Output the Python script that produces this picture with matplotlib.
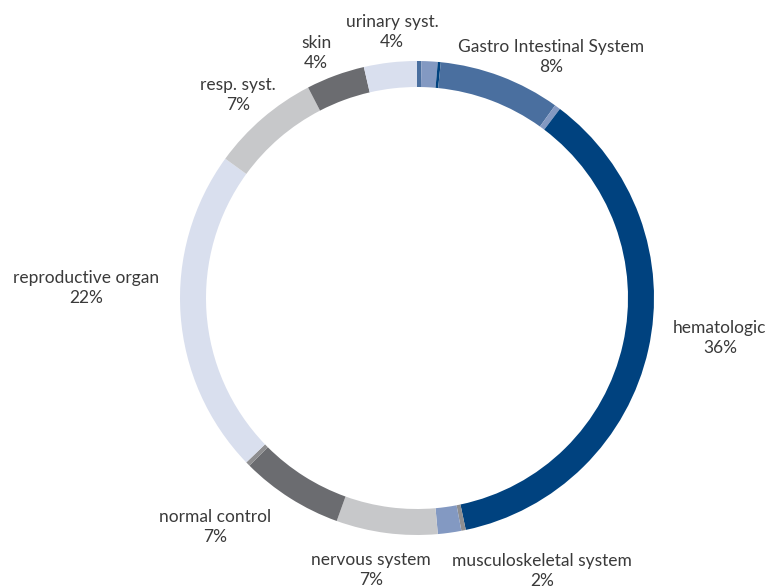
import matplotlib
matplotlib.use('Agg')
import matplotlib.pyplot as plt

# slices clockwise from 12 o'clock (percent of total)
slice_names = ['', '', '', 'Gastro Intestinal System', '', 'hematologic', '',
               'musculoskeletal system', 'nervous system', 'normal control', '',
               'reproductive organ', 'resp. syst.', 'skin', 'urinary syst.']
slice_values = [0.3, 1.1, 0.2, 8.3, 0.4, 36.4, 0.3,
                1.6, 6.9, 7.0, 0.3,
                22.2, 7.4, 4.0, 3.6]

NAVY = '#00427f'
MIDBLUE = '#4a6f9f'
STEEL = '#8399c2'
DARKGRAY = '#6b6c70'
MIDGRAY = '#8e8e90'
LIGHTGRAY = '#c7c8ca'
LAVENDER = '#d9dfee'
slice_colors = [MIDBLUE, STEEL, NAVY, MIDBLUE, STEEL, NAVY, MIDGRAY,
                STEEL, LIGHTGRAY, DARKGRAY, MIDGRAY,
                LAVENDER, LIGHTGRAY, DARKGRAY, LAVENDER]

# label anchor (pixel coords, centre of the two-line label)
label_pos = {
    'urinary syst.': (392, 32),
    'skin': (316, 53),
    'resp. syst.': (238, 95),
    'Gastro Intestinal System': (551, 57),
    'hematologic': (720, 338),
    'musculoskeletal system': (542, 571),
    'nervous system': (371, 570),
    'normal control': (215, 527),
    'reproductive organ': (86, 288),
}

W, H = 771, 588
plt.rcParams['font.family'] = ['Lato', 'DejaVu Sans']

fig = plt.figure(figsize=(W / 100, H / 100), dpi=100)
ax = fig.add_axes([0, 0, 1, 1])

cx, cy, r = 417, 298, 237
ax.pie(slice_values, colors=slice_colors, startangle=90, counterclock=False,
       radius=r, center=(cx, H - cy),
       wedgeprops=dict(width=26, linewidth=0))

total = sum(slice_values)
for name, val in zip(slice_names, slice_values):
    if not name:
        continue
    x, y = label_pos[name]
    pct = int(round(val / total * 100))
    ax.text(x, H - y, '%s\n%d%%' % (name, pct), ha='center', va='center',
            fontsize=12.5, color='#3a3a3a', linespacing=1.35)

ax.set_xlim(0, W)
ax.set_ylim(0, H)
ax.set_aspect('equal')
ax.axis('off')

fig.savefig('out.png', dpi=100)
